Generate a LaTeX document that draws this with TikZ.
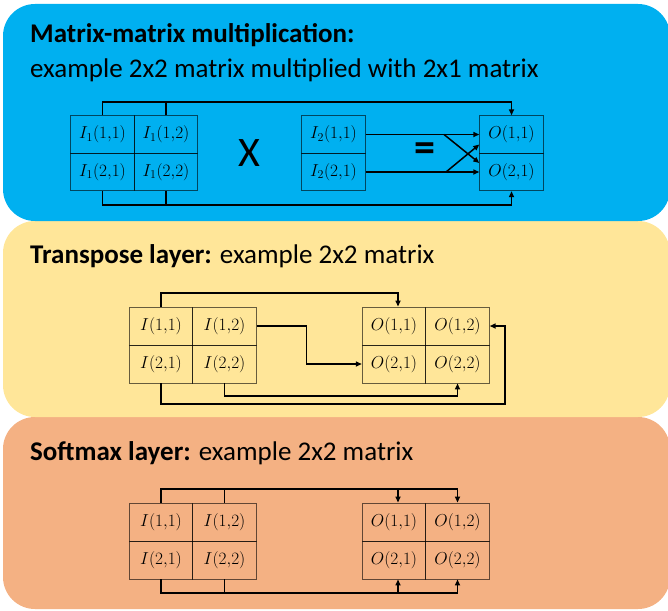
\documentclass[tikz,border=0pt]{standalone}
\usepackage{fontspec}
\setmainfont{Carlito}
\usetikzlibrary{arrows.meta,calc}
\definecolor{pblue}{HTML}{00B0F0}
\definecolor{pyellow}{HTML}{FFE699}
\definecolor{porange}{HTML}{F4B183}
\begin{document}
\begin{tikzpicture}[x=1pt,y=-1pt,
  cell/.style={draw=black, draw opacity=0.6, line width=0.9pt, minimum width=63.5pt,
    minimum height=38pt, inner sep=0pt, font=\fontsize{18.5}{20}\selectfont},
  conn/.style={line width=1.5pt},
  arr/.style={conn, -{Triangle[length=6pt,width=5pt]}},
  title/.style={anchor=base west, inner sep=0pt, font=\fontsize{27}{32}\selectfont},
  panel/.style={rounded corners=32pt},
  big/.style={font=\fontsize{42}{42}\selectfont, inner sep=0pt}]
\useasboundingbox (0,0) rectangle (668,610);
\begin{scope}
  \clip (0,0) rectangle (668,610);
  \fill[porange,panel] (3,417) rectangle (670,609);
  \fill[pyellow,panel] (3,221) rectangle (670,417);
  \fill[pblue,panel] (3,4) rectangle (670,221);
\end{scope}

% titles
\node[title] (t1) at (30,42) {\bfseries Matrix-matrix multiplication:};
\node[title] (t2) at (30,77) {example 2x2 matrix multiplied with 2x1 matrix};
\node[title] (t3) at (30,263) {\textbf{Transpose layer:} example 2x2 matrix};
\node[title] (t4) at (30,460) {\textbf{Softmax layer:} example 2x2 matrix};

% ---- matrix-matrix multiplication ----
\node[cell, minimum height=37.5pt] (a11) at (102.5,134.5) {$I_1(1{,}1)$};
\node[cell, minimum height=37.5pt] (a12) at (166,134.5) {$I_1(1{,}2)$};
\node[cell, minimum height=37.5pt] (a21) at (102.5,172) {$I_1(2{,}1)$};
\node[cell, minimum height=37.5pt] (a22) at (166,172) {$I_1(2{,}2)$};
\node[big] (times) at (249,153) {X};
\node[cell, minimum height=37.5pt] (b11) at (333.5,134.5) {$I_2(1{,}1)$};
\node[cell, minimum height=37.5pt] (b21) at (333.5,172) {$I_2(2{,}1)$};
\node[big] (eq) at (425,152) {\bfseries =};
\node[cell, minimum height=37.5pt] (o11) at (511.5,134.5) {$O(1{,}1)$};
\node[cell, minimum height=37.5pt] (o21) at (511.5,172) {$O(2{,}1)$};

\coordinate (mt) at (0,102);
\coordinate (mb) at (0,205);
\draw[arr] (a11.north) |- (o11.north |- mt) -- (o11.north);
\draw[conn] (a12.north) -- (a12.north |- mt);
\draw[arr] (a21.south) |- (o21.south |- mb) -- (o21.south);
\draw[conn] (a22.south) -- (a22.south |- mb);
\draw[arr] (b11.east) -- (o11.west);
\draw[arr] (b21.east) -- (o21.west);
\coordinate (c1) at (444,134.5);
\coordinate (c2) at (446,172);
\draw[arr] (c1) -- ([yshift=9pt]o21.west);
\draw[arr] (c2) -- ([yshift=-10pt]o11.west);

% ---- transpose layer ----
\node[cell] (y11) at (161,326) {$I(1{,}1)$};
\node[cell] (y12) at (224.5,326) {$I(1{,}2)$};
\node[cell] (y21) at (161,364) {$I(2{,}1)$};
\node[cell] (y22) at (224.5,364) {$I(2{,}2)$};
\node[cell] (q11) at (394,326) {$O(1{,}1)$};
\node[cell] (q12) at (457.5,326) {$O(1{,}2)$};
\node[cell] (q21) at (394,364) {$O(2{,}1)$};
\node[cell] (q22) at (457.5,364) {$O(2{,}2)$};

\coordinate (yt) at (0,293);
\coordinate (yb1) at (505,404);
\coordinate (yb2) at (0,396);
\draw[arr] (y11.north) |- ([xshift=4pt]q11.north |- yt) -- ([xshift=4pt]q11.north);
\draw[arr] (y12.east) -- ++(50,0) |- (q21.west);
\draw[arr] (y21.south) |- (yb1) |- (q12.east);
\draw[arr] (y22.south) |- (q22.south |- yb2) -- (q22.south);

% ---- softmax layer ----
\node[cell] (z11) at (161,522) {$I(1{,}1)$};
\node[cell] (z12) at (224.5,522) {$I(1{,}2)$};
\node[cell] (z21) at (161,560) {$I(2{,}1)$};
\node[cell] (z22) at (224.5,560) {$I(2{,}2)$};
\node[cell] (p11) at (394,522) {$O(1{,}1)$};
\node[cell] (p12) at (457.5,522) {$O(1{,}2)$};
\node[cell] (p21) at (394,560) {$O(2{,}1)$};
\node[cell] (p22) at (457.5,560) {$O(2{,}2)$};

\coordinate (st) at (0,489);
\coordinate (sb) at (0,593);
\draw[conn] (z11.north) |- (p12.north |- st);
\draw[conn] (z12.north) -- (z12.north |- st);
\draw[arr] ([xshift=4pt]p11.north |- st) -- ([xshift=4pt]p11.north);
\draw[arr] (p12.north |- st) -- (p12.north);
\draw[conn] (z21.south) |- (p22.south |- sb);
\draw[conn] (z22.south) -- (z22.south |- sb);
\draw[arr] ([xshift=4pt]p21.south |- sb) -- ([xshift=4pt]p21.south);
\draw[arr] (p22.south |- sb) -- (p22.south);
\end{tikzpicture}
\end{document}
